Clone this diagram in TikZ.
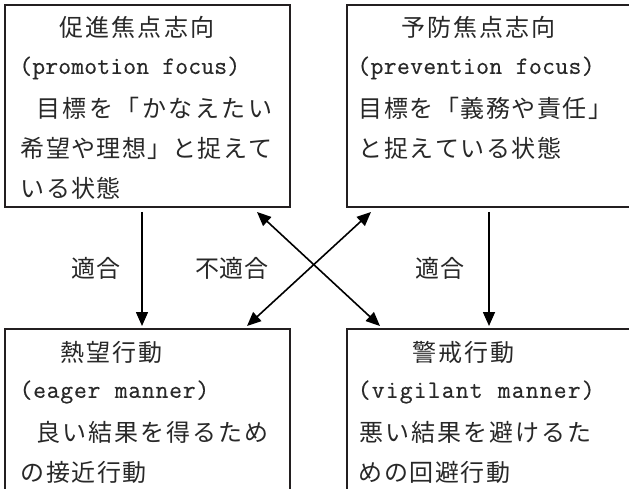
\documentclass[tikz,border=0pt]{standalone}
\usepackage{fontspec}
\usetikzlibrary{arrows.meta}
\newfontfamily\jpf{Noto Sans CJK JP}
\newfontfamily\latf[FakeBold=0.4]{Latin Modern Mono}
\definecolor{boxc}{RGB}{35,31,32}
\definecolor{txtc}{RGB}{40,40,40}
\def\fwend{FWEND}
\def\fwloop#1{\ifx#1\fwend\else\makebox[\fwpitch][c]{#1}\expandafter\fwloop\fi}
\newcommand\fw[2]{\def\fwpitch{#1pt}\fwloop#2\fwend}
\tikzset{
  box/.style={draw=boxc, line width=2.5pt, inner sep=0pt, outer sep=0pt},
  jt/.style={anchor=west, inner sep=0pt, text=txtc, font=\jpf\fontsize{24}{28}\selectfont},
  lt/.style={anchor=west, inner sep=0pt, text=txtc, font=\latf\fontsize{25}{29}\selectfont},
  lab/.style={inner sep=0pt, text=txtc, font=\jpf\fontsize{24}{28}\selectfont},
  arr/.style={line width=1.6pt, draw=black, -{Triangle[length=14pt,width=12pt]}},
  darr/.style={line width=1.6pt, draw=black, {Triangle[length=14pt,width=12pt]}-{Triangle[length=14pt,width=12pt]}}
}
\begin{document}
\begin{tikzpicture}[x=1pt,y=-1pt]
\useasboundingbox (0,0) rectangle (629,489);
\clip (0,0) rectangle (629,489);
\fill[white] (0,0) rectangle (629,489);
% boxes
\node[box, minimum width=285pt, minimum height=202pt] (tl) at (147.5,106) {};
\node[box, minimum width=303pt, minimum height=202pt] (tr) at (498.5,106) {};
\node[box, minimum width=285pt, minimum height=181pt] (bl) at (147.5,419.5) {};
\node[box, minimum width=303pt, minimum height=181pt] (br) at (498.5,419.5) {};
% top-left text
\node[jt] (tl1) at (58,27) {\fw{26.2}{促進焦点志向}};
\node[lt] (tl2) at (19,68) {\fw{13}{(promotion~focus)}};
\node[jt] (tl3) at (35,108) {\fw{26.5}{目標を「かなえたい}};
\node[jt] (tl4) at (20,148) {\fw{25.3}{希望や理想」と捉えて}};
\node[jt] (tl5) at (20,188) {\fw{25.3}{いる状態}};
% top-right text
\node[jt] (tr1) at (400,27) {\fw{26}{予防焦点志向}};
\node[lt] (tr2) at (357,68) {\fw{13.2}{(prevention~focus)}};
\node[jt] (tr3) at (358,108) {\fw{25.5}{目標を「義務や責任」}};
\node[jt] (tr4) at (358,148) {\fw{25.5}{と捉えている状態}};
% bottom-left text
\node[jt] (bl1) at (59,352) {\fw{26}{熱望行動}};
\node[lt] (bl2) at (19,392) {\fw{13.6}{(eager~manner)}};
\node[jt] (bl3) at (35,432) {\fw{26}{良い結果を得るため}};
\node[jt] (bl4) at (20,472) {\fw{25.5}{の接近行動}};
% bottom-right text
\node[jt] (br1) at (411,352) {\fw{26}{警戒行動}};
\node[lt] (br2) at (357,392) {\fw{14}{(vigilant~manner)}};
\node[jt] (br3) at (358,432) {\fw{26}{悪い結果を避けるた}};
\node[jt] (br4) at (358,472) {\fw{25.5}{めの回避行動}};
% labels
\node[lab] (l1) at (96,268) {\fw{24.5}{適合}};
\node[lab] (l2) at (232,268) {\fw{24.5}{不適合}};
\node[lab] (l3) at (440,268) {\fw{24.5}{適合}};
% arrow end points
\coordinate (a1s) at (142,212);
\coordinate (a1e) at (142,326);
\coordinate (a2s) at (489,212);
\coordinate (a2e) at (489,326);
\coordinate (d1s) at (257,212);
\coordinate (d1e) at (380,326);
\coordinate (d2s) at (371,212);
\coordinate (d2e) at (247,326);
\draw[arr] (a1s) -- (a1e);
\draw[arr] (a2s) -- (a2e);
\draw[darr] (d1s) -- (d1e);
\draw[darr] (d2s) -- (d2e);
\end{tikzpicture}
\end{document}
